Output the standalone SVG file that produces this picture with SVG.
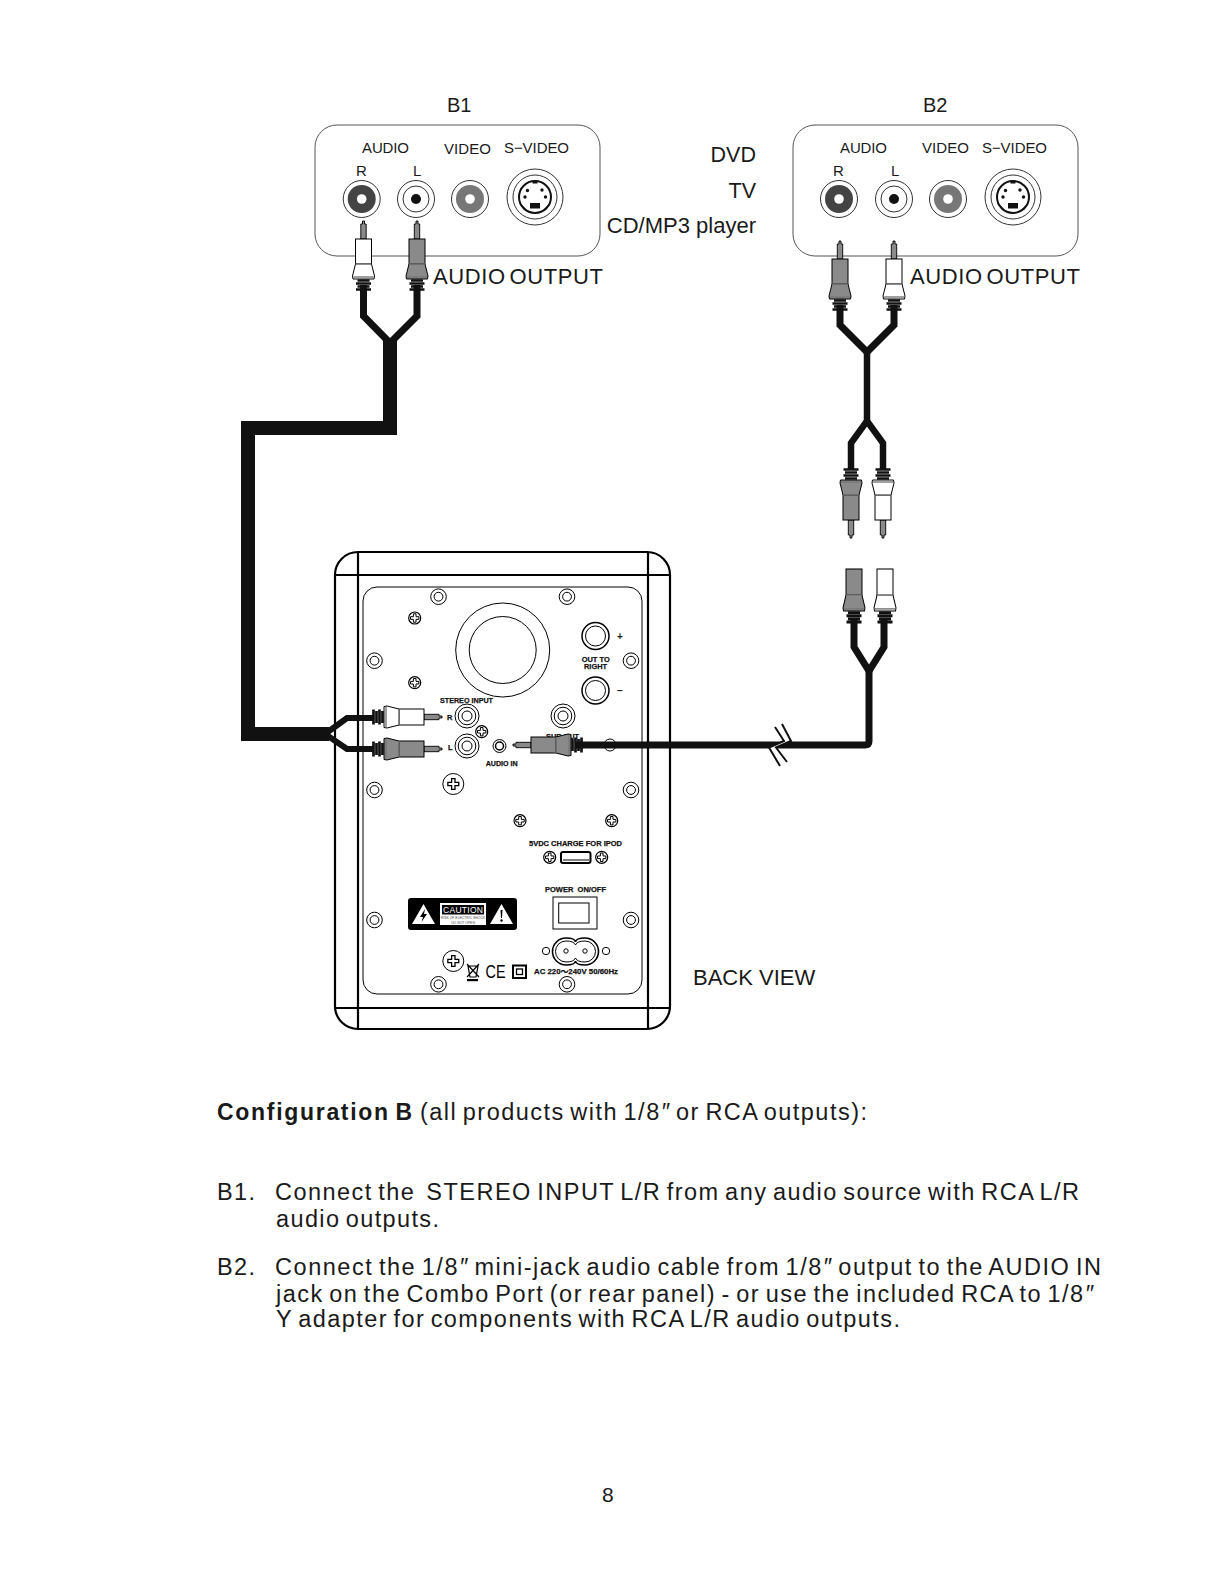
<svg xmlns="http://www.w3.org/2000/svg" xmlns:xlink="http://www.w3.org/1999/xlink" width="1219" height="1582" viewBox="0 0 1219 1582">
<style>
text{font-family:"Liberation Sans",Arial,sans-serif;fill:#1a1a1a}
.lab{font-size:15px}
.big{font-size:22px;word-spacing:-3px}
.body{font-size:23.5px;word-spacing:-2.5px}
.sm{font-size:7.5px;font-weight:bold;fill:#111;stroke:#111;stroke-width:.25px}
.panel{fill:none;stroke:#555;stroke-width:1}
.ln{fill:none;stroke:#000;stroke-width:1}
.sp{fill:none;stroke:#000;stroke-width:2.2}
.cab{fill:none;stroke:#111;stroke-linejoin:miter}
.wh{fill:#fff}.gr{fill:#8a8a8a}
</style>
<defs>
<g id="boot">
<rect x="-8" y="0" width="16" height="25" stroke="#000" stroke-width="1"/>
<path d="M-8,25 L-11,37 L-10.5,40 H10.5 L11,37 L8,25 Z" stroke="#000" stroke-width="1"/>
<path d="M-8,25 H8" stroke="#999" stroke-width="1"/>
<path d="M-10,38 H10" stroke="#777" stroke-width="1.4"/>
<path d="M-6,41.5 H6M-7.5,44.5 H7.5M-6,47.5 H6M-7.5,50.5 H7.5" stroke="#111" stroke-width="2.7"/>
</g>
<g id="plug">
<path d="M-1,0 H1 V3 H2.7 V18 H-2.7 V3 H-1 Z" fill="#8a8a8a" stroke="#000" stroke-width=".9"/>
<use xlink:href="#boot" href="#boot" y="18"/>
</g>
<g id="screw"><circle r="7.8" fill="#fff" stroke="#000" stroke-width="1"/><circle r="4.4" fill="none" stroke="#000" stroke-width="1"/></g>
<path id="plus" d="M-1.3,-4.2 H1.3 V-1.3 H4.2 V1.3 H1.3 V4.2 H-1.3 V1.3 H-4.2 V-1.3 H-1.3 Z" fill="#fff" stroke="#000" stroke-width="1"/>
<g id="xs"><circle r="6" fill="#fff" stroke="#000" stroke-width="1.2"/><use xlink:href="#plus" href="#plus"/></g>
<g id="xl"><circle r="10.5" fill="#fff" stroke="#000" stroke-width="1"/><use xlink:href="#plus" href="#plus" transform="scale(1.3)"/></g>
<g id="jackR"><circle r="18.5" fill="#fff" stroke="#333" stroke-width="1"/><circle r="14" fill="#444"/><circle r="4.8" fill="#fff"/></g>
<g id="jackL"><circle r="18.5" fill="#fff" stroke="#333" stroke-width="1"/><circle r="13" fill="#fff" stroke="#333" stroke-width="1"/><circle r="5" fill="#111"/></g>
<g id="jackV"><circle r="18.5" fill="#fff" stroke="#333" stroke-width="1"/><circle r="14" fill="#777"/><circle r="4.8" fill="#fff"/></g>
<g id="svid">
<circle r="28" fill="#fff" stroke="#333" stroke-width="1"/><circle r="22" fill="#fff" stroke="#333" stroke-width="1"/>
<circle r="16" fill="#fff" stroke="#111" stroke-width="2"/>
<rect x="-2.5" y="-16.5" width="5" height="3" fill="#111"/>
<rect x="-5" y="6" width="10" height="5.5" fill="#111"/>
<path d="M-14,7 L-7,14 L-11,13 Z M14,7 L7,14 L11,13 Z" fill="#111"/>
<g fill="#111"><circle cx="-7.5" cy="-6.5" r="1.7"/><circle cx="7" cy="-7" r="1.7"/><circle cx="-10" cy="0" r="1.7"/><circle cx="10.5" cy="0" r="1.7"/></g>
</g>
<g id="rca"><circle r="12" fill="#fff" stroke="#000" stroke-width="1"/><circle r="8.8" fill="none" stroke="#000" stroke-width="1"/><circle r="5" fill="none" stroke="#000" stroke-width="1"/></g>
<g id="tjack"><circle r="13.5" fill="#fff" stroke="#000" stroke-width="1.5"/><circle r="10" fill="none" stroke="#000" stroke-width="1"/></g>
</defs>

<rect width="1219" height="1582" fill="#fff"/>

<g id="b1-panel">
<text x="447" y="112" style="font-size:20px">B1</text>
<rect class="panel" x="315" y="125" width="285" height="131" rx="22"/>
<text class="lab" x="362" y="153" textLength="47">AUDIO</text>
<text class="lab" x="444" y="154" textLength="47">VIDEO</text>
<text class="lab" x="504" y="153" textLength="65">S−VIDEO</text>
<text class="lab" x="356" y="176">R</text>
<text class="lab" x="413" y="176">L</text>
<use xlink:href="#jackR" href="#jackR" x="361.7" y="199"/>
<use xlink:href="#jackL" href="#jackL" x="416" y="199"/>
<use xlink:href="#jackV" href="#jackV" x="470" y="199"/>
<use xlink:href="#svid" href="#svid" x="535" y="197"/>
<text class="big" x="433" y="284" textLength="170">AUDIO OUTPUT</text>
</g>

<g id="b2-panel">
<text x="923" y="112" style="font-size:20px">B2</text>
<rect class="panel" x="793" y="125" width="285" height="131" rx="22"/>
<text class="lab" x="840" y="153" textLength="47">AUDIO</text>
<text class="lab" x="922" y="153" textLength="47">VIDEO</text>
<text class="lab" x="982" y="153" textLength="65">S−VIDEO</text>
<text class="lab" x="833" y="176">R</text>
<text class="lab" x="891" y="176">L</text>
<use xlink:href="#jackR" href="#jackR" x="839" y="199"/>
<use xlink:href="#jackL" href="#jackL" x="894" y="199"/>
<use xlink:href="#jackV" href="#jackV" x="948" y="199"/>
<use xlink:href="#svid" href="#svid" x="1013" y="197"/>
<text class="big" x="910" y="284" textLength="170">AUDIO OUTPUT</text>
</g>

<g id="sources">
<text x="756" y="162" text-anchor="end" style="font-size:21.5px">DVD</text>
<text x="756" y="198" text-anchor="end" style="font-size:21.5px">TV</text>
<text x="756" y="233" text-anchor="end" style="font-size:22px">CD/MP3 player</text>
</g>

<g id="speaker">
<rect class="sp" x="335" y="552" width="335" height="477" rx="23"/>
<path class="sp" d="M358,552 V1029 M648,552 V1029 M335,575 H670 M335,1008 H670"/>
<rect class="ln" x="363" y="587" width="279" height="407" rx="14"/>
<g id="screws">
<use xlink:href="#screw" href="#screw" x="438.5" y="596.7"/><use xlink:href="#screw" href="#screw" x="567" y="596.7"/>
<use xlink:href="#screw" href="#screw" x="374.5" y="660.7"/><use xlink:href="#screw" href="#screw" x="631" y="660.7"/>
<use xlink:href="#screw" href="#screw" x="374.5" y="790"/><use xlink:href="#screw" href="#screw" x="631" y="790"/>
<use xlink:href="#screw" href="#screw" x="374.5" y="920"/><use xlink:href="#screw" href="#screw" x="631" y="920"/>
<use xlink:href="#screw" href="#screw" x="438.5" y="984.3"/><use xlink:href="#screw" href="#screw" x="567" y="984.3"/>
<use xlink:href="#xs" href="#xs" x="414.7" y="618"/><use xlink:href="#xs" href="#xs" x="414.7" y="682.7"/>
<use xlink:href="#xs" href="#xs" x="520" y="820.7"/><use xlink:href="#xs" href="#xs" x="611.7" y="820.7"/>
<use xlink:href="#xs" href="#xs" x="549.7" y="857.3"/><use xlink:href="#xs" href="#xs" x="601.7" y="857.3"/>
<use xlink:href="#xs" href="#xs" x="481.7" y="731.7"/>
<use xlink:href="#xl" href="#xl" x="453.3" y="784"/><use xlink:href="#xl" href="#xl" x="453.3" y="961"/>
</g>
<circle class="ln" cx="502.7" cy="650" r="47"/><circle class="ln" cx="502.7" cy="650" r="33.5"/>
<use xlink:href="#tjack" href="#tjack" x="595.5" y="636"/><use xlink:href="#tjack" href="#tjack" x="595.5" y="690.5"/>
<text x="617" y="640" style="font-size:10px;font-weight:bold">+</text>
<text x="617" y="694" style="font-size:10px;font-weight:bold">–</text>
<text class="sm" x="581.7" y="662" textLength="28" lengthAdjust="spacingAndGlyphs">OUT TO</text>
<text class="sm" x="584" y="669" textLength="23" lengthAdjust="spacingAndGlyphs">RIGHT</text>
<text class="sm" x="440" y="703" textLength="53" lengthAdjust="spacingAndGlyphs">STEREO INPUT</text>
<text class="sm" x="447" y="720">R</text>
<text class="sm" x="448" y="750">L</text>
<use xlink:href="#rca" href="#rca" x="467" y="716"/><use xlink:href="#rca" href="#rca" x="467" y="746"/>
<use xlink:href="#rca" href="#rca" x="563" y="716"/>
<text class="sm" x="546" y="739" textLength="33" lengthAdjust="spacingAndGlyphs">SUB OUT</text>
<circle fill="#fff" stroke="#000" stroke-width="1" cx="499.5" cy="746" r="6.5"/><circle class="ln" cx="499.5" cy="746" r="4" style="stroke-width:1.5"/>
<text class="sm" x="485.7" y="766" textLength="32" lengthAdjust="spacingAndGlyphs">AUDIO IN</text>
<circle class="ln" cx="610" cy="745" r="6"/>
<text class="sm" x="529" y="846" textLength="93" lengthAdjust="spacingAndGlyphs">5VDC CHARGE FOR IPOD</text>
<rect x="561" y="852" width="29.5" height="11" rx="2" fill="#fff" stroke="#000" stroke-width="2"/>
<path d="M563,860 H589" stroke="#000" stroke-width="1"/>
<text class="sm" x="545" y="892" textLength="61" lengthAdjust="spacingAndGlyphs" xml:space="preserve">POWER  ON/OFF</text>
<rect class="ln" x="553" y="897" width="44" height="32"/>
<rect class="ln" x="558.7" y="903" width="30.3" height="20"/>
<path class="ln" style="stroke-width:1.6" d="M566,938 Q575,938 575.5,942 Q576,938 585,938 A13.5,13.5 0 0 1 585,965 Q576,965 575.5,961 Q575,965 566,965 A13.5,13.5 0 0 1 566,938 Z"/>
<path class="ln" d="M566,941 Q574,941 575.5,945 Q577,941 585,941 A10.5,10.5 0 0 1 585,962 Q577,962 575.5,958 Q574,962 566,962 A10.5,10.5 0 0 1 566,941 Z"/>
<circle class="ln" cx="546" cy="951" r="3.7"/><circle class="ln" cx="606" cy="951" r="3.7"/>
<circle class="ln" cx="566" cy="951" r="2.2"/><circle class="ln" cx="585" cy="951" r="2.2"/>
<g id="caution">
<rect x="408" y="898" width="109" height="32" rx="3" fill="#000"/>
<path d="M423.5,904 L435,924 H412 Z M501.5,904 L513,924 H490 Z" fill="#fff"/>
<path d="M425,909 L420,917 H423 L421.5,922 L427,914 H424 Z" fill="#000"/>
<path d="M500.5,910 H502.5 L502,918 H501 Z" fill="#000"/><circle cx="501.5" cy="920.5" r="1.2" fill="#000"/>
<rect x="440" y="903" width="46" height="22" fill="#fff"/>
<rect x="442" y="905" width="42" height="9.5" fill="#000"/>
<text x="443" y="913" textLength="40" style="font-size:8.5px;fill:#fff">CAUTION</text>
<text x="463" y="919.3" text-anchor="middle" style="font-size:3.4px;fill:#444">RISK OF ELECTRIC SHOCK</text>
<text x="463" y="923.5" text-anchor="middle" style="font-size:3.4px;fill:#444">DO NOT OPEN</text>
</g>
<g id="marks">
<path d="M468,966 H478 L476,977 H470 Z M467,964 L479,977 M479,964 L467,977" fill="none" stroke="#000" stroke-width="1.2"/>
<rect x="467" y="979" width="11" height="2.2" fill="#000"/>
<text x="485.5" y="978" textLength="20" lengthAdjust="spacingAndGlyphs" style="font-size:17.5px;fill:#000">CE</text>
<rect x="513" y="965.5" width="13" height="12.5" fill="none" stroke="#000" stroke-width="2"/>
<rect x="516.5" y="969" width="6" height="5.5" fill="none" stroke="#000" stroke-width="1.3"/>
</g>
<text class="sm" x="534" y="974" textLength="84" lengthAdjust="spacingAndGlyphs" style="font-family:'Liberation Sans','Noto Sans CJK SC',sans-serif">AC 220～240V 50/60Hz</text>
</g>
<text id="back-view" x="693" y="985" style="font-size:22px">BACK VIEW</text>

<g id="connectors">
<path class="cab" stroke-width="7" d="M363.5,285 V316 L390,343 L417,316 V285"/>
<path class="cab" stroke-width="14" d="M390,338 V428 H248 V734 H329"/>
<path class="cab" stroke-width="6" d="M374,718 H347 L325,734 L347,749 H374"/>
<path class="cab" stroke-width="7" d="M840,305 V325 L867,352 L894,325 V305"/>
<path class="cab" stroke-width="6.5" d="M867,352 V422"/>
<path class="cab" stroke-width="6.5" d="M851,470 V443 L867,421 L883,443 V470"/>
<path class="cab" stroke-width="7" d="M854,618 V647 L869,671 L884,647 V618"/>
<path class="cab" stroke-width="7" stroke-linejoin="round" d="M869,669 V741 Q869,745 865,745 H576"/>
<path d="M775,727 L784,741 L769,747.5 L780,766 L787,762 L776,747.5 L791,741 L782,724 Z" fill="#fff"/>
<path d="M775,727 L784,741 L769,747.5 L780,766 M782,724 L791,741 L776,747.5 L787,762" fill="none" stroke="#111" stroke-width="2"/>
</g>

<g id="plugs">
<use id="plug-b1-r" class="wh" xlink:href="#plug" href="#plug" transform="translate(363.5,221)"/>
<use id="plug-b1-l" class="gr" xlink:href="#plug" href="#plug" transform="translate(417,221)"/>
<use id="plug-b2-r" class="gr" xlink:href="#plug" href="#plug" transform="translate(840,241)"/>
<use id="plug-b2-l" class="wh" xlink:href="#plug" href="#plug" transform="translate(894,241)"/>
<use id="plug-y-l" class="gr" xlink:href="#plug" href="#plug" transform="translate(851,538) rotate(180)"/>
<use id="plug-y-r" class="wh" xlink:href="#plug" href="#plug" transform="translate(883,538) rotate(180)"/>
<use id="sock-y-l" class="gr" xlink:href="#boot" href="#boot" transform="translate(854,569) scale(1,1.05)"/>
<use id="sock-y-r" class="wh" xlink:href="#boot" href="#boot" transform="translate(885,569) scale(1,1.05)"/>
<use id="plug-in-r" class="wh" xlink:href="#plug" href="#plug" transform="translate(442,717) rotate(90)"/>
<use id="plug-in-l" class="gr" xlink:href="#plug" href="#plug" transform="translate(442,749) rotate(90)"/>
<use id="plug-audio" class="gr" xlink:href="#plug" href="#plug" transform="translate(513,745) rotate(-90)"/>
</g>

<g id="caption">
<text class="body" x="217" y="1120" textLength="195" style="font-weight:bold;font-size:23px">Configuration B</text>
<text class="body" x="420" y="1120" textLength="447">(all products with 1/8<tspan font-style="italic">″</tspan> or RCA outputs):</text>
<text class="body" x="217" y="1200" textLength="38">B1.</text>
<text class="body" x="275" y="1200" textLength="804">Connect the&#160; STEREO INPUT L/R from any audio source with RCA L/R</text>
<text class="body" x="276" y="1227" textLength="163">audio outputs.</text>
<text class="body" x="217" y="1275" textLength="38">B2.</text>
<text class="body" x="275" y="1275" textLength="826">Connect the 1/8<tspan font-style="italic">″</tspan> mini-jack audio cable from 1/8<tspan font-style="italic">″</tspan> output to the AUDIO IN</text>
<text class="body" x="276" y="1302" textLength="817">jack on the Combo Port (or rear panel) - or use the included RCA to 1/8<tspan font-style="italic">″</tspan></text>
<text class="body" x="276" y="1327" textLength="624">Y adapter for components with RCA L/R audio outputs.</text>
<text x="602" y="1502" style="font-size:21px">8</text>
</g>
</svg>
